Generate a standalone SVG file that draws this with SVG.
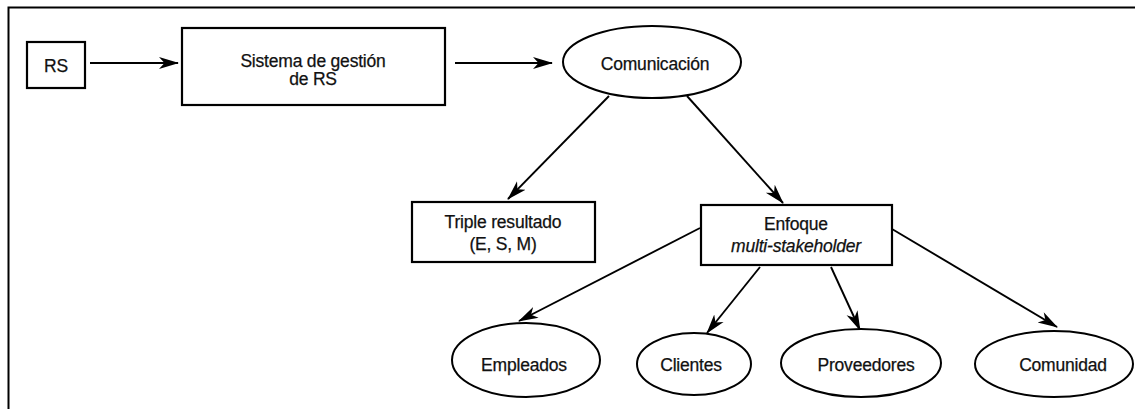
<svg xmlns="http://www.w3.org/2000/svg" width="1135" height="409" viewBox="0 0 1135 409">
<defs>
<style>
.box{fill:#fff;stroke:#000;stroke-width:2.2}
.ell{fill:#fff;stroke:#000;stroke-width:2}
.t{font-family:"Liberation Sans",Arial,sans-serif;font-size:17.5px;fill:#111;stroke:#111;stroke-width:0.25;text-anchor:middle;letter-spacing:-0.2px}
.it{font-style:italic}
.c{stroke:#000;stroke-width:1.9;fill:none;marker-end:url(#ah)}
.frame{stroke:#000;stroke-width:2;fill:none}
</style>
<marker id="ah" markerWidth="20" markerHeight="14" refX="19" refY="7" orient="auto" markerUnits="userSpaceOnUse">
<path d="M0,1 L20,7 L0,13 L5.5,7 z" fill="#000"/>
</marker>
</defs>
<rect width="1135" height="409" fill="#fff"/>
<path class="frame" d="M8.5,409 L8.5,7.5 L1135,7.5"/>
<g id="connectors">
<line class="c" x1="90" y1="63" x2="178" y2="63"/>
<line class="c" x1="455" y1="63" x2="552" y2="63"/>
<line class="c" x1="609" y1="96" x2="508" y2="199"/>
<line class="c" x1="687" y1="96" x2="783" y2="203"/>
<line class="c" x1="700" y1="228" x2="519" y2="321"/>
<line class="c" x1="760" y1="267" x2="707" y2="333"/>
<line class="c" x1="831" y1="267" x2="860" y2="330"/>
<line class="c" x1="892" y1="229" x2="1057" y2="327"/>
</g>
<g id="rs">
<rect class="box" x="27" y="42" width="58" height="46"/>
<text class="t" x="56" y="72">RS</text>
</g>
<g id="sistema">
<rect class="box" x="182" y="28" width="263" height="77"/>
<text class="t" x="313" y="67">Sistema de gestión</text>
<text class="t" x="313" y="85">de RS</text>
</g>
<g id="comunicacion">
<ellipse class="ell" cx="652" cy="62" rx="89" ry="36"/>
<text class="t" x="655" y="70">Comunicación</text>
</g>
<g id="triple">
<rect class="box" x="412" y="202" width="183" height="60"/>
<text class="t" x="503" y="228">Triple resultado</text>
<text class="t" x="503" y="250">(E, S, M)</text>
</g>
<g id="enfoque">
<rect class="box" x="701" y="205" width="191" height="60"/>
<text class="t" x="796" y="230">Enfoque</text>
<text class="t it" x="796" y="252">multi-stakeholder</text>
</g>
<g id="empleados">
<ellipse class="ell" cx="526" cy="360" rx="74" ry="37"/>
<text class="t" x="524" y="371">Empleados</text>
</g>
<g id="clientes">
<ellipse class="ell" cx="694" cy="364" rx="57" ry="31"/>
<text class="t" x="691" y="371">Clientes</text>
</g>
<g id="proveedores">
<ellipse class="ell" cx="861" cy="363" rx="80" ry="34"/>
<text class="t" x="866" y="371">Proveedores</text>
</g>
<g id="comunidad">
<ellipse class="ell" cx="1054" cy="364" rx="79" ry="33"/>
<text class="t" x="1063" y="371">Comunidad</text>
</g>
</svg>
